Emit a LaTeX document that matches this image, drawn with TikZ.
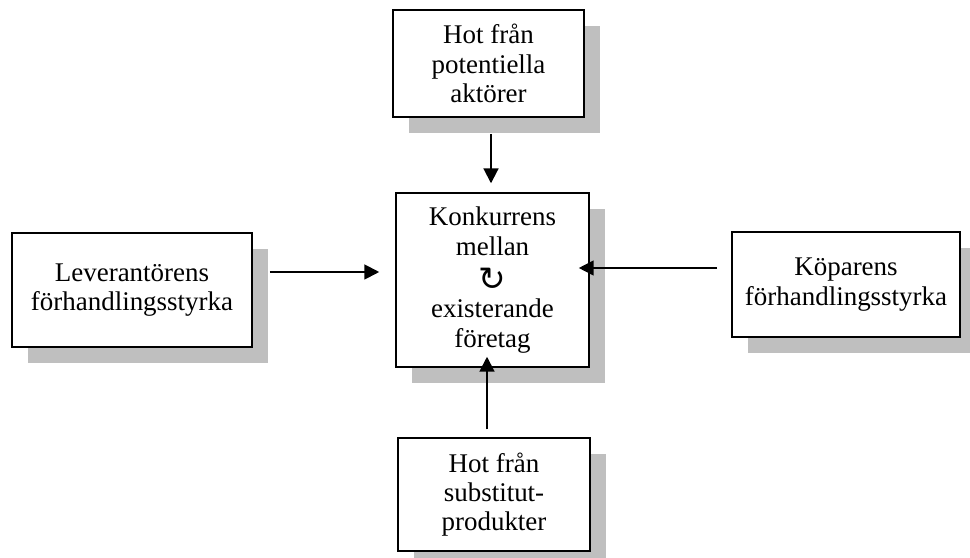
\documentclass[tikz,border=0pt]{standalone}
\usepackage{fontspec}
\setmainfont{Liberation Serif}
\newfontfamily\symfont{DejaVu Sans}
\usetikzlibrary{arrows.meta,shadows}

\begin{document}
\begin{tikzpicture}[x=0.456pt,y=-0.456pt,
  ruta/.style={draw,line width=0.7pt,fill=white,align=center,inner sep=0pt,
    font=\fontsize{12.3}{13.4}\selectfont,
    drop shadow={shadow xshift=7.3pt,shadow yshift=-7.3pt,fill=black!25,opacity=1}},
  pil/.style={line width=0.9pt,-{Triangle[length=6.8pt,width=6.8pt]}}]
\useasboundingbox (0,0) rectangle (970,558);

\node[ruta,minimum width=87pt,minimum height=48.8pt] (hot) at (488.5,63.5) {Hot från\\potentiella\\aktörer};
\node[ruta,minimum width=88pt,minimum height=79.3pt,font=\fontsize{12.3}{14}\selectfont] (kon) at (492.5,280)
  {Konkurrens\\mellan\\\raisebox{-2pt}{\symfont\fontsize{15}{14}\selectfont ↻}\\existerande\\företag};
\node[ruta,minimum width=87.5pt,minimum height=51.5pt] (sub) at (494,494.5) {Hot från\\substitut-\\produkter};
\node[ruta,minimum width=109.4pt,minimum height=52pt] (lev) at (132,290) {Leverantörens\\förhandlingsstyrka};
\node[ruta,minimum width=104pt,minimum height=47.9pt] (kop) at (846,284.5) {Köparens\\förhandlingsstyrka};

\draw[pil,shorten <=7.3pt,shorten >=4.1pt] (hot.south -| 491,0) -- (kon.north -| 491,0);
\draw[pil,shorten <=3.6pt,shorten >=-5pt] (sub.north -| 487,0) -- (kon.south -| 487,0);
\draw[pil,shorten <=7.8pt,shorten >=7.3pt] (lev.east |- 0,272) -- (kon.west |- 0,272);
\draw[pil,shorten <=6.4pt,shorten >=-5pt] (kop.west |- 0,268) -- (kon.east |- 0,268);

\end{tikzpicture}
\end{document}
